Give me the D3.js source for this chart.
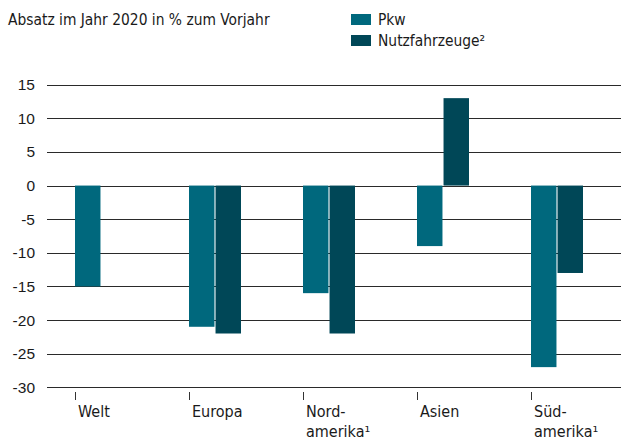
<!DOCTYPE html>
<html><head><meta charset="utf-8">
<script src="https://cdn.jsdelivr.net/npm/d3@7"></script>
<style>
html,body{margin:0;padding:0;background:#fff;}
svg{display:block;}
</style></head>
<body>
<script>
const categories = ["Welt", "Europa", "Nord-\namerika¹", "Asien", "Süd-\namerika¹"];
const seriesNames = ["Pkw", "Nutzfahrzeuge²"];
const pkw = [-15, -21, -16, -9, -27];
const nfz = [null, -22, -22, 13, -13];
const yTicks = [15, 10, 5, 0, -5, -10, -15, -20, -25, -30];
const title = "Absatz im Jahr 2020 in % zum Vorjahr";
const colors = ["#00687d", "#004757"];

const W = 621, H = 443;
const svg = d3.select("body").append("svg").attr("width", W).attr("height", H);
const font = "'Liberation Sans Narrow', 'DejaVu Sans Condensed', sans-serif";

const y = d3.scaleLinear().domain([-30, 15]).range([387.3, 84.7]);
const x0 = d3.scaleBand().domain(categories).range([75, 75 + 114 * categories.length]).padding(0);
const x1 = d3.scaleBand().domain(seriesNames).range([0, 52]).paddingInner(0.04);

// gridlines
svg.append("g").selectAll("line").data(yTicks).join("line")
  .attr("x1", 47).attr("x2", W)
  .attr("y1", d => Math.round(y(d)) + 0.5).attr("y2", d => Math.round(y(d)) + 0.5)
  .attr("stroke", "#2a2a2a").attr("stroke-width", 1.2);

// y labels
svg.append("g").selectAll("text").data(yTicks).join("text")
  .attr("x", 35).attr("y", d => y(d) + 5.5)
  .attr("text-anchor", "end")
  .attr("font-family", "'Liberation Sans', Arial, sans-serif").attr("font-size", 15.5)
  .attr("fill", "#1a1a1a")
  .text(d => d);

// bars
const rows = categories.map((c, i) => ({c, vals: [pkw[i], nfz[i]]}));
const g = svg.append("g").selectAll("g").data(rows).join("g")
  .attr("transform", d => `translate(${x0(d.c)},0)`);
g.selectAll("rect").data(d => d.vals.map((v, j) => ({v, s: seriesNames[j], j})).filter(e => e.v !== null))
  .join("rect")
  .attr("x", d => x1(d.s)).attr("width", x1.bandwidth())
  .attr("y", d => y(Math.max(0, d.v))).attr("height", d => Math.abs(y(d.v) - y(0)))
  .attr("fill", d => colors[d.j]);

// x ticks
svg.append("g").selectAll("line").data(categories).join("line")
  .attr("x1", d => x0(d) + 0.5).attr("x2", d => x0(d) + 0.5)
  .attr("y1", 392).attr("y2", 400)
  .attr("stroke", "#333").attr("stroke-width", 1);

// x labels
const xl = svg.append("g").selectAll("text").data(categories).join("text")
  .attr("x", d => x0(d) + 3).attr("y", 417)
  .attr("font-family", font).attr("font-size", 16).attr("fill", "#1a1a1a");
xl.selectAll("tspan").data(d => d.split("\n")).join("tspan")
  .attr("x", function(){ return this.parentNode.getAttribute("x"); })
  .attr("dy", (d, i) => i === 0 ? 0 : 20)
  .text(d => d);

// title
svg.append("text").attr("x", 8).attr("y", 25)
  .attr("font-family", font).attr("font-size", 15.4).attr("fill", "#1a1a1a")
  .text(title);

// legend
const leg = svg.append("g").selectAll("g").data(seriesNames).join("g")
  .attr("transform", (d, i) => `translate(351,${14 + i * 21})`);
leg.append("rect").attr("width", 20).attr("height", 11).attr("fill", (d, i) => colors[i]);
leg.append("text").attr("x", 27).attr("y", 11)
  .attr("font-family", font).attr("font-size", 15.4).attr("fill", "#1a1a1a")
  .text(d => d);
</script>
</body></html>
